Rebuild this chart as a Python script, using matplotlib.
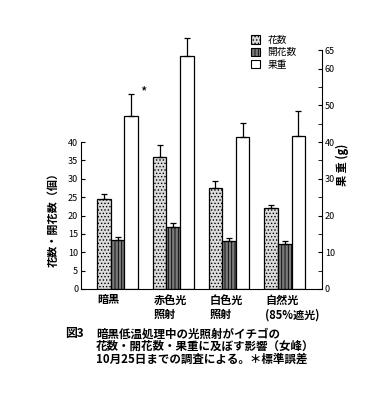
import numpy as np
import matplotlib
matplotlib.use("Agg")
import matplotlib.pyplot as plt
from matplotlib.patches import Patch

plt.rcParams['font.family'] = ['Noto Sans CJK JP', 'DejaVu Sans']
plt.rcParams['hatch.linewidth'] = 0.6

# データ
groups = ['暗黒', '赤色光\n照射', '白色光\n照射', '自然光\n(85%遮光)']
flowers = [24.5, 36.0, 27.5, 22.0]        # 花数 (個)
flowers_err = [1.4, 3.3, 2.0, 0.8]
open_flowers = [13.3, 17.0, 13.0, 12.2]   # 開花数 (個)
open_err = [0.8, 1.0, 0.8, 0.8]
fruit_wt = [47.0, 63.5, 41.5, 41.7]       # 果重 (g)
fruit_err = [6.0, 4.8, 3.8, 6.8]

fig = plt.figure(figsize=(3.88, 4.04), dpi=100)
ax = fig.add_axes([0.209, 0.2847, 0.621, 0.598])

x = np.arange(len(groups))
w = 0.244
lw = 0.9

ax.bar(x - w, flowers, w, color='#dcdcdc', edgecolor='black', hatch='.....', linewidth=lw)
ax.bar(x, open_flowers, w, color='#7a7a7a', edgecolor='black', hatch='|||||', linewidth=lw)
ax.bar(x + w, fruit_wt, w, color='white', edgecolor='black', linewidth=lw)

for xs, vals, errs in [(x - w, flowers, flowers_err), (x, open_flowers, open_err), (x + w, fruit_wt, fruit_err)]:
    eb = ax.errorbar(xs, vals, yerr=[np.zeros(len(errs)), errs], fmt='none', ecolor='black',
                     elinewidth=0.9, capsize=2.5, capthick=0.9)
    for art in eb.lines[1] + eb.lines[2]:
        art.set_clip_on(False)

ax.text(x[0] + w + 0.22, 53.5, '*', fontsize=10, ha='center', va='center')

ax.set_xlim(-0.655, 3.67)
ax.set_ylim(0, 65.8)
ax.spines['top'].set_visible(False)
ax.spines['right'].set_visible(False)
ax.spines['left'].set_bounds(0, 40)
ax.set_xticks([])
ax.set_yticks(np.arange(0, 41, 5))
ax.tick_params(axis='y', direction='in', length=3, labelsize=6.5, pad=2)

ax2 = ax.twinx()
ax2.set_ylim(0, 65.8)
ax2.spines['top'].set_visible(False)
ax2.spines['left'].set_visible(False)
ax2.spines['bottom'].set_visible(False)
ax2.spines['right'].set_bounds(0, 65)
ax2.set_yticks([0, 10, 20, 30, 40, 50, 60, 65])
ax2.set_yticks(np.arange(5, 65, 10), minor=True)
ax2.tick_params(axis='y', which='both', direction='in', length=3, labelsize=6.5, pad=2)

# 区分ラベル
for i, g in enumerate(groups):
    lines = g.split('\n')
    for j, line in enumerate(lines):
        ax.text(x[i] - 1.5 * w + 0.01, -3.0 - j * 4.0, line, fontsize=8, ha='left', va='center',
                fontweight='bold')

fig.text(53 / 388, 1 - 217 / 404, '花数・開花数（個）', rotation=90, ha='center', va='center',
         fontsize=8, fontweight='bold')
fig.text(342 / 388, 1 - 165 / 404, '果 重 (g)', rotation=90, ha='center', va='center',
         fontsize=8, fontweight='bold')

handles = [Patch(facecolor='#dcdcdc', edgecolor='black', hatch='.....', linewidth=0.8),
           Patch(facecolor='#7a7a7a', edgecolor='black', hatch='|||||', linewidth=0.8),
           Patch(facecolor='white', edgecolor='black', linewidth=0.8)]
fig.legend(handles, ['花数', '開花数', '果重'], loc='upper left', bbox_to_anchor=(246 / 388, 1 - 30 / 404),
           frameon=False, fontsize=7, handlelength=0.9, handleheight=0.9, handletextpad=0.8,
           labelspacing=0.25, borderpad=0)

# キャプション
fig.text(65 / 388, 1 - 334 / 404, '図3', fontsize=8.5, va='center', fontweight='bold')
caption = ['暗黒低温処理中の光照射がイチゴの',
           '花数・開花数・果重に及ぼす影響（女峰）',
           '10月25日までの調査による。＊標準誤差']
for k, line in enumerate(caption):
    fig.text(96 / 388, 1 - (334 + k * 12.5) / 404, line, fontsize=8.3, va='center', fontweight='bold')

fig.savefig('out.png', dpi=100)
